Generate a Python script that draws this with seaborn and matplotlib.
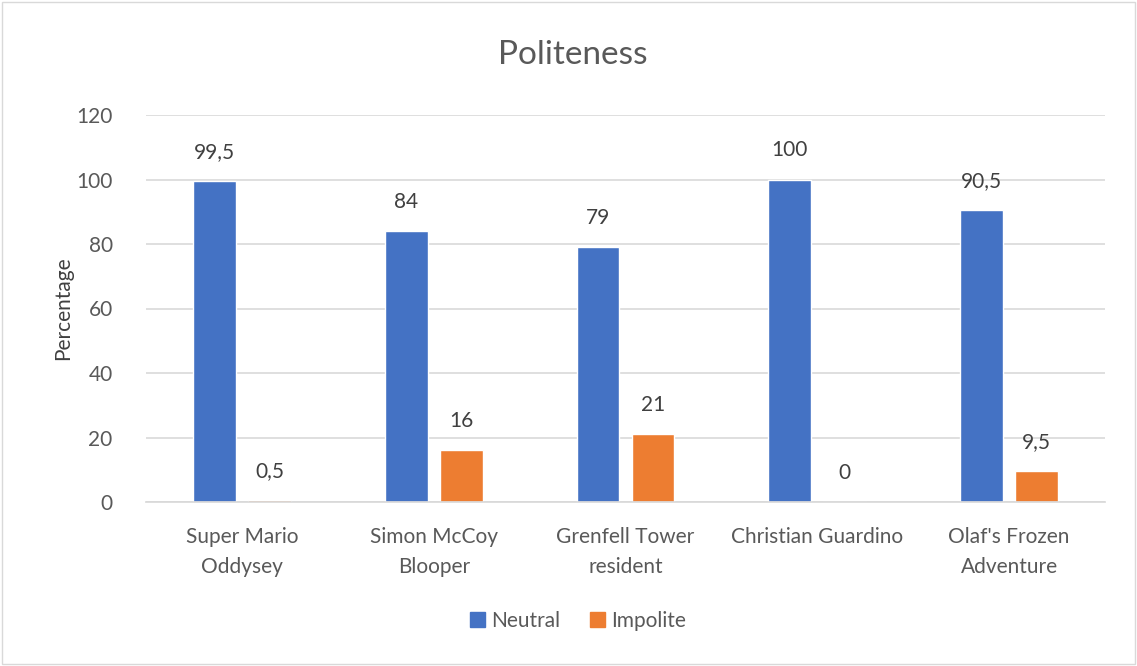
import pandas as pd
import seaborn as sns
import matplotlib.pyplot as plt
from matplotlib.patches import Rectangle

videos = ["Super Mario\nOddysey", "Simon McCoy\nBlooper", "Grenfell Tower\nresident",
          "Christian Guardino", "Olaf's Frozen\nAdventure"]
neutral = [99.5, 84, 79, 100, 90.5]
impolite = [0.5, 16, 21, 0, 9.5]
series = ["Neutral", "Impolite"]

df = pd.DataFrame({"Video": videos * 2,
                   "Type": ["Neutral"] * 5 + ["Impolite"] * 5,
                   "Value": neutral + impolite})

sns.set_theme(style="white")
plt.rcParams['font.family'] = ['Lato', 'DejaVu Sans']
grey = "#595959"

fig = plt.figure(figsize=(11.37, 6.66), dpi=100)
ax = fig.add_axes([146 / 1137, 1 - 502 / 666, 959 / 1137, 387 / 666])

sns.barplot(data=df, x="Video", y="Value", hue="Type", hue_order=series,
            palette={"Neutral": "#4472C4", "Impolite": "#ED7D31"},
            width=0.573, gap=0.22, ax=ax, legend=False, saturation=1)

for container in ax.containers:
    labels = [f"{v:g}".replace(".", ",") for v in container.datavalues]
    ax.bar_label(container, labels=labels, padding=14, fontsize=15, color="#404040")

ax.set_ylim(0, 120)
ax.set_yticks(range(0, 121, 20))
ax.yaxis.grid(True, color="#D9D9D9", linewidth=1.2)
ax.set_axisbelow(True)
for side in ["top", "right", "left"]:
    ax.spines[side].set_visible(False)
ax.spines["bottom"].set_color("#D9D9D9")
ax.tick_params(axis="both", colors=grey, labelsize=15, length=0)
ax.tick_params(axis="x", pad=18)
ax.tick_params(axis="y", pad=24)
for lbl in ax.get_xticklabels():
    lbl.set_linespacing(1.6)
ax.set_xlabel("")
ax.set_ylabel("Percentage", fontsize=15, color="#404040", labelpad=2)

fig.text(573 / 1137, 1 - 55 / 666, "Politeness", ha="center", va="center",
         fontsize=24, color=grey)

# legend
handles = [Rectangle((0, 0), 1, 1, color=c) for c in ["#4472C4", "#ED7D31"]]
fig.legend(handles, series, loc="center", bbox_to_anchor=(578 / 1137, 1 - 621 / 666),
           ncol=2, frameon=False, fontsize=15, handlelength=0.75, handleheight=0.75,
           columnspacing=1.4, handletextpad=0.3, labelcolor=grey)

fig.patches.append(Rectangle((0.002, 0.003), 0.996, 0.994, transform=fig.transFigure,
                             fill=False, edgecolor="#D9D9D9", linewidth=1))

fig.savefig("out.png", dpi=100)
